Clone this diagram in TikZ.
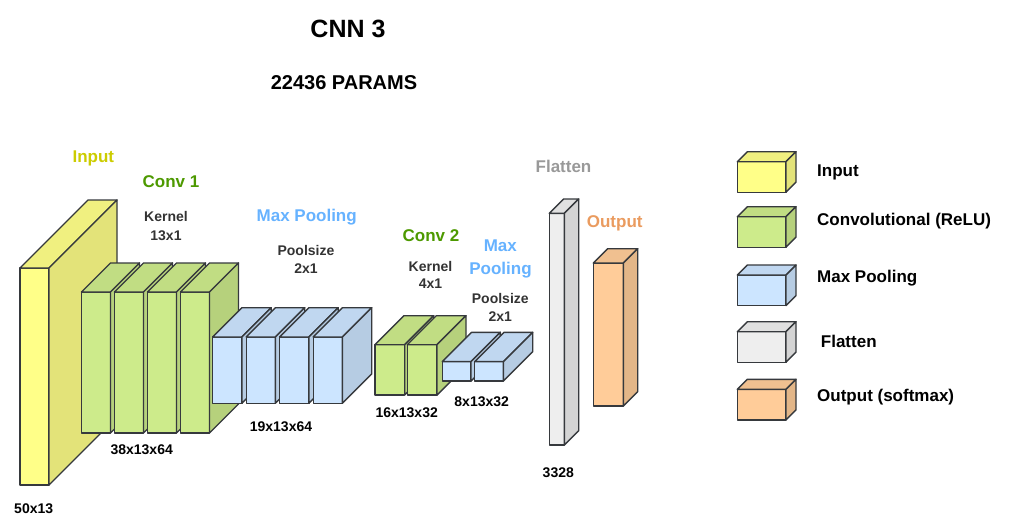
\documentclass[tikz,border=0pt]{standalone}
\usepackage{fontspec}
\setmainfont{Liberation Sans}
\definecolor{edge}{HTML}{36393D}
\definecolor{ylwF}{HTML}{FFFF88}
\definecolor{grnF}{HTML}{CDEB8B}
\definecolor{bluF}{HTML}{CCE5FF}
\definecolor{gryF}{HTML}{EEEEEE}
\definecolor{orgF}{HTML}{FFCC99}
\colorlet{ylwT}{ylwF!94!black}\colorlet{ylwS}{ylwF!89!black}
\colorlet{grnT}{grnF!94!black}\colorlet{grnS}{grnF!89!black}
\colorlet{bluT}{bluF!94!black}\colorlet{bluS}{bluF!89!black}
\colorlet{gryT}{gryF!94!black}\colorlet{gryS}{gryF!89!black}
\colorlet{orgT}{orgF!94!black}\colorlet{orgS}{orgF!89!black}
\definecolor{tIn}{HTML}{CCCC00}
\definecolor{tConv}{HTML}{4D9900}
\definecolor{tPool}{HTML}{66B2FF}
\definecolor{tFlat}{HTML}{999999}
\definecolor{tOut}{HTML}{EA9B5F}
\definecolor{tSub}{HTML}{333333}
% x, y (top), total width, total height, depth, colour prefix
\newcommand{\cnncube}[6]{%
  \filldraw[fill=#6F, cubeline] (#1,#2+#5) rectangle (#1+#3-#5,#2+#4);
  \filldraw[fill=#6T, cubeline] (#1,#2+#5) -- (#1+#5,#2) -- (#1+#3,#2) -- (#1+#3-#5,#2+#5) -- cycle;
  \filldraw[fill=#6S, cubeline] (#1+#3-#5,#2+#5) -- (#1+#3,#2) -- (#1+#3,#2+#4-#5) -- (#1+#3-#5,#2+#4) -- cycle;
}
\begin{document}
\begin{tikzpicture}[x=1pt,y=-1pt,
  cubeline/.style={draw=edge, line width=1.4pt, line join=round},
  lbl/.style={font=\bfseries\fontsize{14}{16}\selectfont, inner sep=0pt, text height=10.08pt, text depth=0pt, anchor=center},
  sub/.style={lbl, text=tSub},
  ttl/.style={font=\bfseries\fontsize{17}{19}\selectfont, inner sep=0pt, text height=12.24pt, text depth=0pt, anchor=center},
  leg/.style={ttl, anchor=west, text=black}]
\useasboundingbox (0,0) rectangle (1009,530);
% input
\cnncube{20}{200}{97}{285}{68}{ylw}
% conv 1
\foreach \i in {0,...,3} { \cnncube{81.5+33*\i}{263}{58}{170}{29}{grn} }
% pool 1
\foreach \i in {0,...,3} { \cnncube{212.7+33.5*\i}{307.7}{58.5}{95.6}{29.3}{blu} }
% conv 2
\foreach \i in {0,1} { \cnncube{375+32.3*\i}{315.7}{58.7}{79.3}{29}{grn} }
% pool 2
\foreach \i in {0,1} { \cnncube{442.3+32.4*\i}{332.3}{58}{48.7}{29.3}{blu} }
% flatten
\cnncube{549.3}{199}{29.4}{246}{14.3}{gry}
% output
\cnncube{593.3}{248.7}{44.4}{157.3}{14.4}{org}
% legend cubes
\cnncube{737.3}{151.7}{58.7}{40.5}{10}{ylw}
\cnncube{737.3}{206.7}{58.7}{40.5}{10}{grn}
\cnncube{737.3}{265}{58.7}{40.5}{10}{blu}
\cnncube{737.3}{321.7}{58.7}{40.5}{10}{gry}
\cnncube{737.3}{379.3}{58.7}{40.5}{10}{org}
% titles
\node[font=\bfseries\fontsize{25}{28}\selectfont, inner sep=0pt, text height=18pt, text depth=0pt] (title) at (348,28) {CNN 3};
\node[font=\bfseries\fontsize{20}{22}\selectfont, inner sep=0pt, text height=14.4pt, text depth=0pt] (params) at (344,82) {22436 PARAMS};
% layer labels
\node[ttl, text=tIn] (tinput) at (93.3,156.5) {Input};
\node[ttl, text=tConv] (tconv1) at (171,181) {Conv 1};
\node[sub] (k1a) at (166,216.5) {Kernel};
\node[sub] (k1b) at (166,235) {13x1};
\node[lbl] (d1) at (141.7,449) {38x13x64};
\node[lbl] (d0) at (33.7,508) {50x13};
\node[ttl, text=tPool] (tpool1) at (306.7,215) {Max Pooling};
\node[sub] (p1a) at (306,250.5) {Poolsize};
\node[sub] (p1b) at (306,268.3) {2x1};
\node[lbl] (d2) at (281,426.5) {19x13x64};
\node[ttl, text=tConv] (tconv2) at (431,235) {Conv 2};
\node[sub] (k2a) at (430.5,266.5) {Kernel};
\node[sub] (k2b) at (430.5,283.3) {4x1};
\node[ttl, text=tPool] (tpool2a) at (500.3,245) {Max};
\node[ttl, text=tPool] (tpool2b) at (500.5,268.3) {Pooling};
\node[sub] (p2a) at (500.3,298) {Poolsize};
\node[sub] (p2b) at (500.3,316) {2x1};
\node[lbl] (d3) at (406.7,412.5) {16x13x32};
\node[lbl] (d4) at (481.7,401) {8x13x32};
\node[ttl, text=tFlat] (tflat) at (563.5,166.5) {Flatten};
\node[ttl, text=tOut] (tout) at (614.7,221) {Output};
\node[lbl] (d5) at (558.3,472.5) {3328};
% legend texts
\node[leg] (l1) at (817,170) {Input};
\node[leg] (l2) at (817,219) {Convolutional (ReLU)};
\node[leg] (l3) at (817,276.7) {Max Pooling};
\node[leg] (l4) at (820.7,341) {Flatten};
\node[leg] (l5) at (817,395.5) {Output (softmax)};
\end{tikzpicture}
\end{document}
